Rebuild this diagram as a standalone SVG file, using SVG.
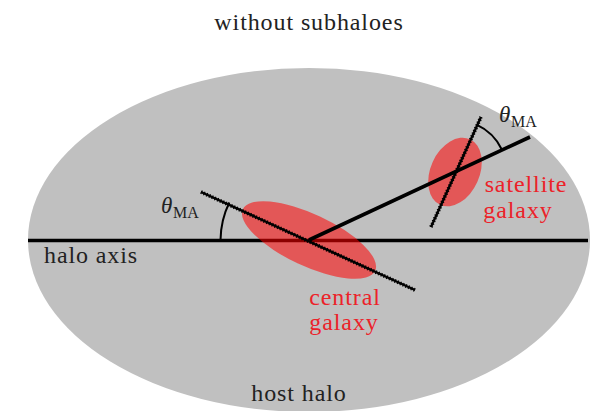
<svg xmlns="http://www.w3.org/2000/svg" width="599" height="411" viewBox="0 0 599 411">
<style>
.lbl{font-size:24px;letter-spacing:0.9px;fill:#222}
.red{fill:#ec2229}
.gal{fill:#ff0000;fill-opacity:0.55}
.ax{stroke:#000;stroke-width:3.6;fill:none}
.dsh{stroke:#000;stroke-width:2.4;fill:none}
.dsh2{stroke:#000;stroke-width:3.8;stroke-dasharray:1.2 1.8;fill:none}
.arc{stroke:#000;stroke-width:2;fill:none}
.th{font-size:23px;font-style:italic;fill:#222}
.sub{font-size:16px;fill:#222}
</style>
<rect width="599" height="411" fill="#fff"/>
<text class="lbl" font-family="Liberation Serif" style="font-family:'Liberation Serif',serif" x="309" y="30" text-anchor="middle">without subhaloes</text>
<g id="host-halo">
<ellipse cx="309" cy="240" rx="281" ry="172" fill="#c0c0c0"/>
<text class="lbl" font-family="Liberation Serif" style="font-family:'Liberation Serif',serif" x="299" y="401" text-anchor="middle">host halo</text>
</g>
<g id="halo-axis">
<line class="ax" x1="28" y1="240.5" x2="588" y2="240.5"/>
<text class="lbl" font-family="Liberation Serif" style="font-family:'Liberation Serif',serif" x="44" y="263">halo axis</text>
</g>
<g id="central-galaxy">
<ellipse class="gal" cx="309" cy="240" rx="73" ry="26" transform="rotate(25 309 240)"/>
<text class="lbl red" font-family="Liberation Serif" style="font-family:'Liberation Serif',serif" x="345" y="305" text-anchor="middle">central</text>
<text class="lbl red" font-family="Liberation Serif" style="font-family:'Liberation Serif',serif" x="344" y="330" text-anchor="middle">galaxy</text>
</g>
<g id="satellite-galaxy">
<ellipse class="gal" cx="455" cy="172" rx="36" ry="24.5" transform="rotate(-65.6 455 172)"/>
<text class="lbl red" font-family="Liberation Serif" style="font-family:'Liberation Serif',serif" x="526" y="192" text-anchor="middle">satellite</text>
<text class="lbl red" font-family="Liberation Serif" style="font-family:'Liberation Serif',serif" x="518" y="218" text-anchor="middle">galaxy</text>
</g>
<g id="connectors">
<line class="ax" x1="309" y1="240" x2="530" y2="137"/>
<line class="dsh" x1="201" y1="192" x2="415" y2="290"/>
<line class="dsh2" x1="201" y1="192" x2="415" y2="290"/>
<line class="dsh" x1="431" y1="227" x2="481" y2="117"/>
<line class="dsh2" x1="431" y1="227" x2="481" y2="117"/>
<path class="arc" d="M220.5 240 A88.5 88.5 0 0 1 229.3 202.5"/>
<path class="arc" d="M476.5 124.6 A52 52 0 0 1 502.1 150"/>
</g>
<g id="theta-central">
<text class="th" font-family="Liberation Serif" style="font-family:'Liberation Serif',serif" x="161" y="213">θ</text>
<text class="sub" font-family="Liberation Serif" style="font-family:'Liberation Serif',serif" x="173" y="218">MA</text>
</g>
<g id="theta-satellite">
<text class="th" font-family="Liberation Serif" style="font-family:'Liberation Serif',serif" x="499" y="122">θ</text>
<text class="sub" font-family="Liberation Serif" style="font-family:'Liberation Serif',serif" x="511" y="127">MA</text>
</g>
</svg>
